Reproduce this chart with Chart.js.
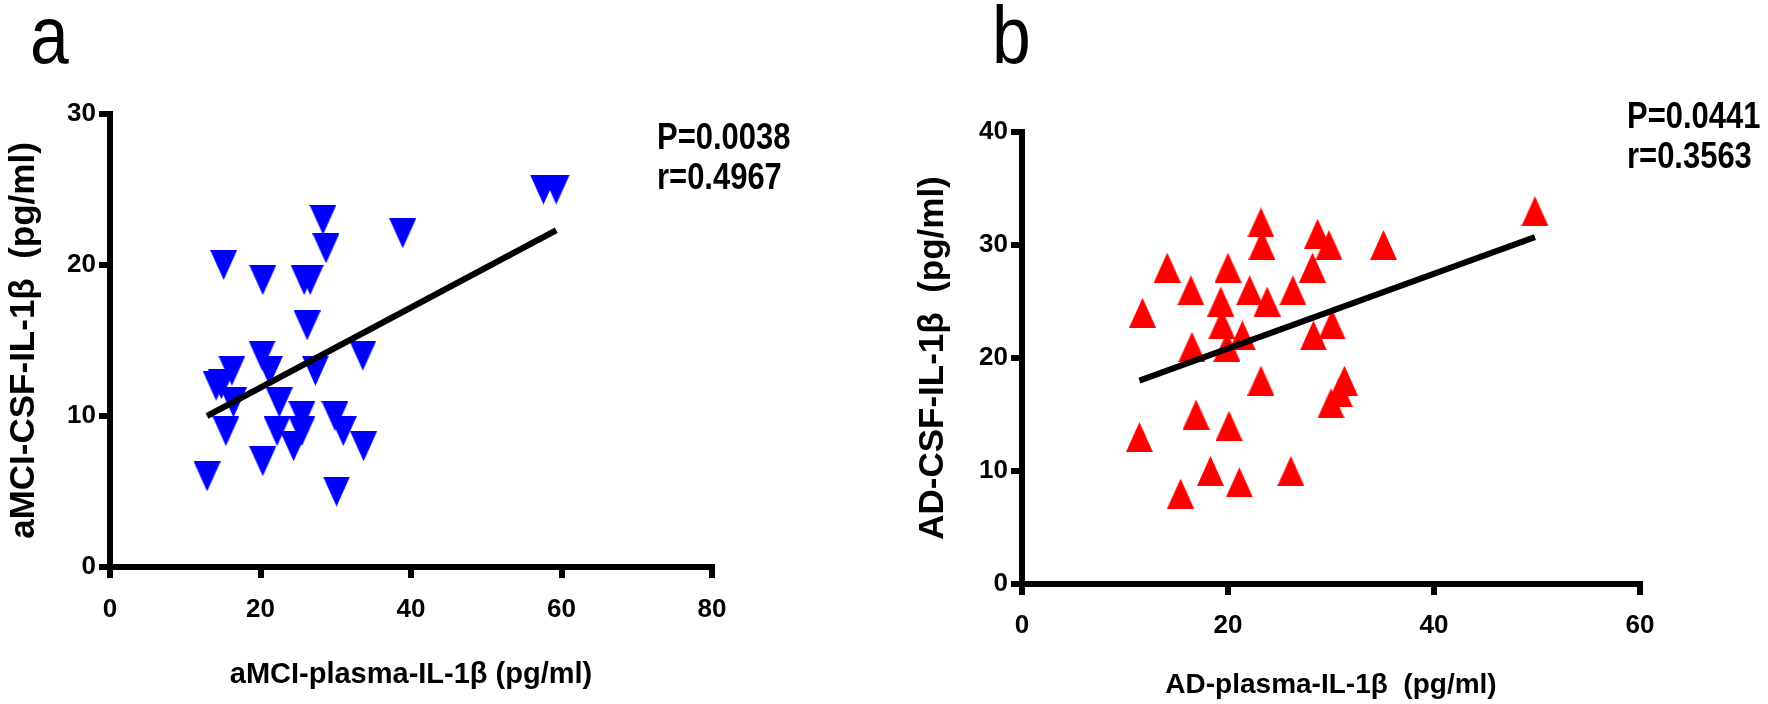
<!DOCTYPE html>
<html>
<head>
<meta charset="utf-8">
<script src="https://cdn.jsdelivr.net/npm/chart.js@4.4.0/dist/chart.umd.min.js"></script>
<style>
  html, body { margin: 0; padding: 0; background: #fff; }
  .panel { position: absolute; top: 0; width: 884px; height: 704px; }
  #panelA { left: 0; }
  #panelB { left: 884px; }
</style>
</head>
<body>
<div class="panel" id="panelA"><canvas id="chartA"></canvas></div>
<div class="panel" id="panelB"><canvas id="chartB"></canvas></div>
<script>
// panel a: aMCI, plasma vs CSF IL-1beta
const aPlasma = [57.6, 59.3, 28.3, 28.7, 38.9, 15.1, 20.3, 25.8, 26.6, 26.2, 33.6, 27.3,
                 20.2, 21.2, 16.2, 14.1, 14.8, 16.4, 22.5, 25.5, 29.9, 15.4, 22.2, 25.5,
                 31.0, 24.4, 33.7, 20.3, 12.9, 30.1];
const aCsf = [25.0, 25.0, 23.0, 21.1, 22.1, 20.0, 19.0, 19.0, 19.0, 16.0, 14.0, 13.0,
              14.0, 13.0, 13.0, 12.0, 12.1, 10.9, 10.9, 10.0, 10.0, 9.0, 9.0, 9.0,
              9.0, 8.0, 8.0, 7.0, 6.0, 5.0];
const aFitX = [12.9, 59.3];
const aFitY = [10.0, 22.3];
const aXTicks = [0, 20, 40, 60, 80];
const aYTicks = [0, 10, 20, 30];
const aStats = ['P=0.0038', 'r=0.4967'];

// panel b: AD, plasma vs CSF IL-1beta
const bPlasma = [23.2, 23.3, 28.7, 29.8, 35.1, 28.2, 14.1, 20.0, 16.4, 22.1, 26.3, 19.3,
                 23.8, 11.7, 19.4, 21.4, 30.1, 28.3, 16.5, 19.9, 23.2, 31.3, 30.8, 30.0,
                 16.9, 20.1, 11.4, 18.3, 21.1, 15.4, 26.1, 49.8];
const bCsf = [32.0, 30.0, 31.0, 30.0, 30.0, 28.0, 28.0, 28.0, 26.0, 26.0, 26.0, 25.0,
              25.0, 24.0, 23.0, 22.0, 23.0, 22.0, 21.0, 21.0, 18.0, 18.0, 17.0, 16.0,
              15.0, 14.0, 13.0, 10.0, 9.0, 8.0, 10.0, 33.0];
const bFitX = [11.4, 49.8];
const bFitY = [18.0, 30.7];
const bXTicks = [0, 20, 40, 60];
const bYTicks = [0, 10, 20, 30, 40];
const bStats = ['P=0.0441', 'r=0.3563'];

Chart.defaults.font.family = '"Liberation Sans", Arial, sans-serif';
Chart.defaults.color = '#000';

function triangle(color, down) {
  const c = document.createElement('canvas');
  c.width = 27; c.height = 30;
  const g = c.getContext('2d');
  g.fillStyle = color;
  g.beginPath();
  if (down) { g.moveTo(0, 0); g.lineTo(27, 0); g.lineTo(13.5, 30); }
  else { g.moveTo(13.5, 0); g.lineTo(27, 30); g.lineTo(0, 30); }
  g.closePath();
  g.fill();
  return c;
}

function axis(min, max, ticks, title, size, tick, titleFont, titlePad) {
  return {
    type: 'linear', min: min, max: max,
    afterBuildTicks: s => { s.ticks = ticks.map(v => ({ value: v })); },
    afterFit: s => { if (s.isHorizontal()) s.height = size; else s.width = size; },
    border: { display: true, color: '#000', width: 6 },
    grid: { drawOnChartArea: false, drawTicks: true, tickLength: 11, lineWidth: 6, tickWidth: 6, tickColor: '#000' },
    ticks: { color: '#000', font: { size: 26, weight: 'bold' }, padding: tick, maxRotation: 0 },
    title: { display: true, text: title, color: '#000', font: { size: titleFont, weight: 'bold' }, padding: titlePad }
  };
}

// panel letter and P / r values, drawn slightly condensed like the original
function textPlugin(letter, letterX, stats, statsX, statsY) {
  return {
    id: 'texts',
    afterDraw(chart) {
      const ctx = chart.ctx;
      ctx.save();
      ctx.fillStyle = '#000';
      ctx.textAlign = 'left';
      ctx.save();
      ctx.translate(letterX, 63);
      ctx.scale(0.85, 1);
      ctx.textBaseline = 'alphabetic';
      ctx.font = '82px "Liberation Sans", Arial, sans-serif';
      ctx.fillText(letter, 0, 0);
      ctx.restore();
      ctx.textBaseline = 'middle';
      ctx.font = 'bold 36px "Liberation Sans", Arial, sans-serif';
      stats.forEach((s, i) => {
        ctx.save();
        ctx.translate(statsX, statsY + i * 40);
        ctx.scale(0.86, 1);
        ctx.fillText(s, 0, 0);
        ctx.restore();
      });
      ctx.restore();
    }
  };
}

function makeChart(id, xs, ys, fitX, fitY, color, down, box, xScale, yScale, plugin) {
  const pts = xs.map((x, i) => ({ x: x, y: ys[i] }));
  const fit = fitX.map((x, i) => ({ x: x, y: fitY[i] }));
  return new Chart(document.getElementById(id), {
    type: 'scatter',
    data: {
      datasets: [
        { data: fit, showLine: true, borderColor: '#000', borderWidth: 6, pointRadius: 0, order: 0 },
        { data: pts, pointStyle: triangle(color, down), pointRadius: 14, order: 1, clip: false }
      ]
    },
    options: {
      responsive: true, maintainAspectRatio: false, animation: false,
      layout: { padding: box },
      plugins: { legend: { display: false }, tooltip: { enabled: false } },
      scales: { x: xScale, y: yScale }
    },
    plugins: [plugin]
  });
}

makeChart('chartA', aPlasma, aCsf, aFitX, aFitY, '#0000ff', true,
  { left: 0, top: 114, right: 172, bottom: 0 },
  axis(0, 80, aXTicks, 'aMCI-plasma-IL-1\u03b2 (pg/ml)', 137, 16, 29, { top: 0, bottom: 12 }),
  axis(0, 30, aYTicks, 'aMCI-CSF-IL-1\u03b2  (pg/ml)', 110, 3, 35, { top: 3, bottom: 0 }),
  textPlugin('a', 30, aStats, 657, 139));

makeChart('chartB', bPlasma, bCsf, bFitX, bFitY, '#ff0000', false,
  { left: 0, top: 132, right: 128, bottom: 0 },
  axis(0, 60, bXTicks, 'AD-plasma-IL-1\u03b2  (pg/ml)', 120, 15, 28, { top: 0, bottom: 2 }),
  axis(0, 40, bYTicks, 'AD-CSF-IL-1\u03b2  (pg/ml)', 138, 3, 35, { top: 28, bottom: 0 }),
  textPlugin('b', 108, bStats, 743, 118));
</script>
</body>
</html>
